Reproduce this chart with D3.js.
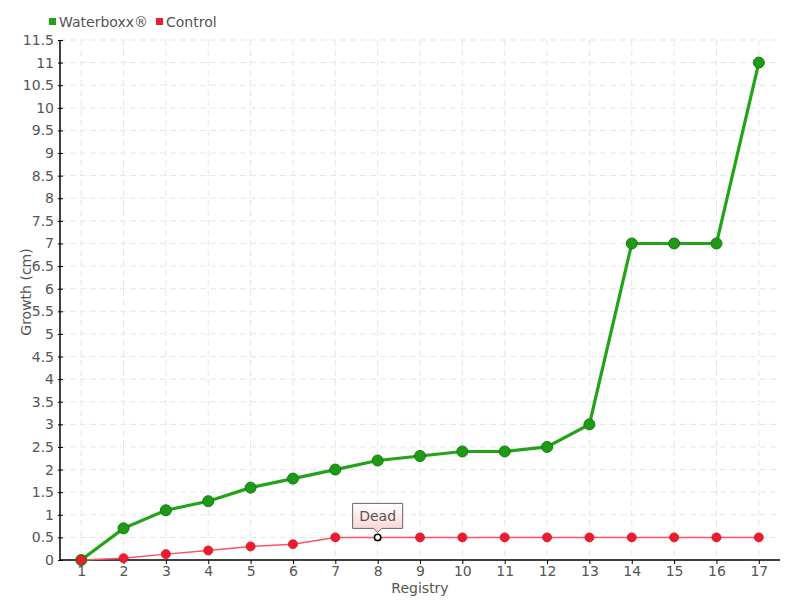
<!DOCTYPE html>
<html><head><meta charset="utf-8">
<script src="https://cdn.jsdelivr.net/npm/d3@7"></script>
<style>body{margin:0;background:#fff;} text{font-family:"DejaVu Sans",sans-serif;fill:#555;}</style>
</head><body><svg id="c" width="800" height="600"></svg>
<script>
const categories = ["1","2","3","4","5","6","7","8","9","10","11","12","13","14","15","16","17"];
const waterboxx = [0,0.7,1.1,1.3,1.6,1.8,2.0,2.2,2.3,2.4,2.4,2.5,3.0,7.0,7.0,7.0,11.0];
const control = [0,0.04,0.13,0.21,0.3,0.35,0.5,0.5,0.5,0.5,0.5,0.5,0.5,0.5,0.5,0.5,0.5];
const yTicks = d3.range(0, 11.51, 0.5);
const seriesNames = ["Waterboxx®","Control"];
const annotation = {index: 7, text: "Dead"};

const svg = d3.select("#c");
const L=60, R=780, T=40, B=560;
const x = d3.scalePoint().domain(categories).range([L,R]).padding(0.5);
const y = d3.scaleLinear().domain([0,11.5]).range([B,T]);

// grid
svg.append("g").selectAll("line").data(yTicks.slice(1)).join("line")
 .attr("x1",L).attr("x2",R).attr("y1",d=>y(d)).attr("y2",d=>y(d))
 .attr("stroke","#e6e6e6").attr("stroke-dasharray","6,4");
svg.append("g").selectAll("line").data(categories).join("line")
 .attr("x1",d=>x(d)).attr("x2",d=>x(d)).attr("y1",T).attr("y2",B)
 .attr("stroke","#e6e6e6").attr("stroke-dasharray","6,4");

// axes
const fmt = d=> (d%1===0? d3.format("d")(d) : d3.format(".1f")(d));
const ya = svg.append("g").attr("transform",`translate(${L},0)`)
 .call(d3.axisLeft(y).tickValues(yTicks).tickFormat(fmt).tickSize(3).tickPadding(3));
ya.selectAll(".tick line").attr("x1",3).attr("x2",-2).attr("stroke","#000");
ya.select(".domain").attr("stroke","#000").attr("stroke-width",1.5).attr("d",`M0,${B}V${T}`);
ya.selectAll("text").style("font-size","14px").attr("fill","#555");
const xa = svg.append("g").attr("transform",`translate(0,${B})`)
 .call(d3.axisBottom(x).tickSize(4).tickPadding(2));
xa.selectAll(".tick line").attr("stroke","#000");
xa.select(".domain").attr("stroke","#000").attr("stroke-width",1.5).attr("d",`M${L},0H${R}`);
xa.selectAll("text").style("font-size","14px").attr("fill","#555");

svg.append("text").attr("x",420).attr("y",593).attr("text-anchor","middle").style("font-size","14px").text("Registry");
svg.append("text").attr("transform","translate(31,292) rotate(-90)").attr("text-anchor","middle").style("font-size","14px").text("Growth (cm)");

const line = d3.line().x((d,i)=>x(categories[i])).y(d=>y(d));
// control
svg.append("path").datum(control).attr("d",line).attr("fill","none").attr("stroke","#ff5060").attr("stroke-width",1.5);
// waterboxx
svg.append("path").datum(waterboxx).attr("d",line).attr("fill","none").attr("stroke","#22a31a").attr("stroke-width",3.2);
svg.append("g").selectAll("circle").data(waterboxx).join("circle")
 .attr("cx",(d,i)=>x(categories[i])).attr("cy",d=>y(d)).attr("r",5.5)
 .attr("fill","#1e9a16").attr("stroke","#137a0e").attr("stroke-width",1);
svg.append("g").selectAll("circle").data(control).join("circle")
 .attr("cx",(d,i)=>x(categories[i])).attr("cy",d=>y(d)).attr("r",d=>4.5)
 .attr("fill","#ec1c2e").attr("stroke","#d01525").attr("stroke-width",0.8)
 .filter((d,i)=>i===annotation.index).attr("r",3.2).attr("fill","#fff").attr("stroke","#000").attr("stroke-width",1.5);

// annotation
const ax = x(categories[annotation.index]), ay = y(control[annotation.index]);
const defs = svg.append("defs");
const g = defs.append("linearGradient").attr("id","tg").attr("x1",0).attr("x2",0).attr("y1",0).attr("y2",1);
g.append("stop").attr("offset","0").attr("stop-color","#ffffff");
g.append("stop").attr("offset","1").attr("stop-color","#fbd0d0");
const bx=ax-25, bw=50, by=ay-34, bh=25;
svg.append("path").attr("d",`M${bx},${by}H${bx+bw}V${by+bh}H${ax+4}L${ax},${by+bh+4}L${ax-4},${by+bh}H${bx}Z`)
 .attr("fill","url(#tg)").attr("stroke","#666").attr("stroke-width",1);
svg.append("text").attr("x",ax).attr("y",by+18).attr("text-anchor","middle").style("font-size","14px").text(annotation.text);

// legend
const colors=["#22a31a","#ec1c2e"];
const lg = svg.append("g");
let lx=49;
seriesNames.forEach((n,i)=>{
  lg.append("rect").attr("x",lx).attr("y",18).attr("width",7).attr("height",7).attr("fill",colors[i]);
  const t=lg.append("text").attr("x",lx+10).attr("y",27).style("font-size","14px").text(n);
  lx += 10 + t.node().getComputedTextLength() + 8;
});
</script></body></html>
